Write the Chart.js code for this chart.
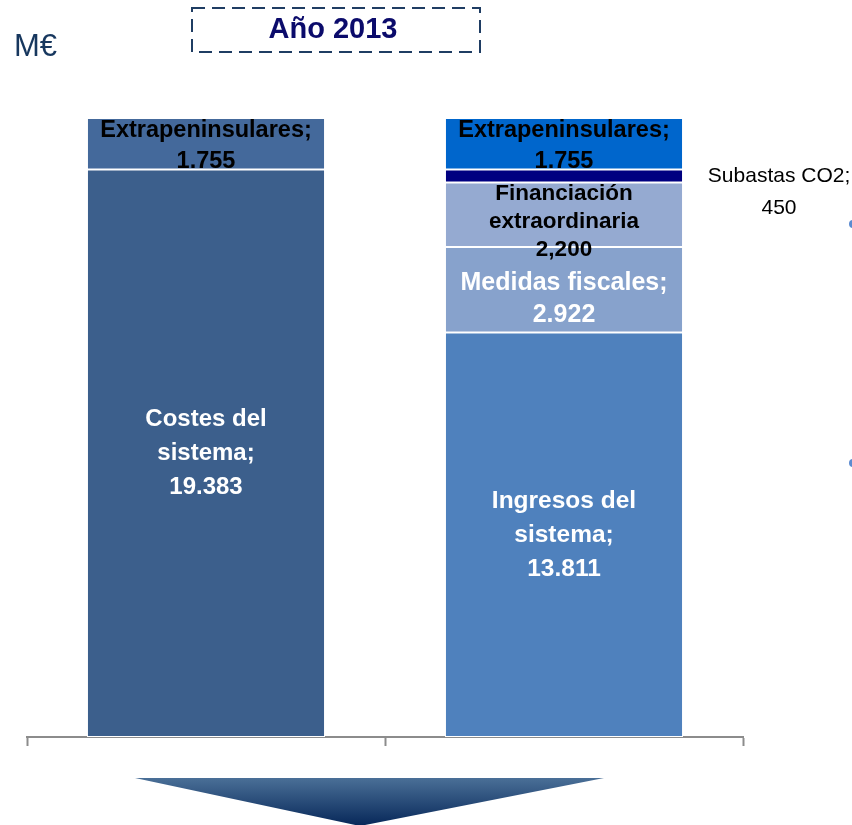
<!DOCTYPE html>
<html>
<head>
<meta charset="utf-8">
<script src="https://cdn.jsdelivr.net/npm/chart.js@4"></script>
<style>
  body { margin: 0; background: #fff; }
  canvas { display: block; }
</style>
</head>
<body>
<canvas class="chartBalance" width="852" height="825"></canvas>
<script>
// две колонки: затраты и доходы системы, M€
const categorias = ['Costes', 'Ingresos'];

const costesSistema = [19383, null];
const ingresosSistema = [null, 13811];
const medidasFiscales = [null, 2922];
const financiacionExtra = [null, 2200];
const subastasCO2 = [null, 450];
const extrapeninsulares = [1755, 1755];

// подписи внутри сегментов (по строкам)
const textosCostes = [['Costes del', 'sistema;', '19.383'], null];
const textosIngresos = [null, ['Ingresos del', 'sistema;', '13.811']];
const textosMedidas = [null, ['Medidas fiscales;', '2.922']];
const textosFinanciacion = [null, ['Financiación', 'extraordinaria', '2,200']];
const textosSubastas = [null, ['Subastas CO2;', '450']];
const textosExtra = [['Extrapeninsulares;', '1.755'], ['Extrapeninsulares;', '1.755']];

const totalMax = costesSistema[0] + extrapeninsulares[0];

const FONT = '"Liberation Sans", Arial, sans-serif';

// плагин: подписи сегментов
const etiquetas = {
  id: 'etiquetas',
  afterDatasetsDraw(chart) {
    const ctx = chart.ctx;
    chart.data.datasets.forEach((ds, i) => {
      const meta = chart.getDatasetMeta(i);
      meta.data.forEach((bar, j) => {
        const lines = ds.textos[j];
        if (!lines || ds.data[j] == null) return;
        const e = ds.etiqueta;
        const cy = (bar.y + bar.base) / 2;
        ctx.save();
        ctx.font = e.weight + ' ' + e.size + 'px ' + FONT;
        ctx.fillStyle = e.color;
        ctx.textAlign = 'center';
        ctx.textBaseline = 'middle';
        let x = bar.x;
        let y0 = cy - (lines.length - 1) * e.lineH / 2 + (e.dy || 0);
        if (e.top != null) y0 = bar.y + e.top; // от верхнего края сегмента
        if (e.outside) { // выноска справа от колонки
          x = bar.x + bar.width / 2 + e.outside;
          y0 = cy;
        }
        lines.forEach((t, k) => ctx.fillText(t, x, y0 + k * e.lineH));
        ctx.restore();
      });
    });
  }
};

// плагин: заголовок, единицы и стрелка внизу
const decoracion = {
  id: 'decoracion',
  afterDraw(chart) {
    const ctx = chart.ctx;
    ctx.save();
    ctx.fillStyle = '#17375e';
    ctx.font = '31px ' + FONT;
    ctx.textBaseline = 'middle';
    ctx.fillText('M€', 14, 47);

    ctx.strokeStyle = '#1f3d63';
    ctx.lineWidth = 2;
    ctx.setLineDash([13, 7]);
    ctx.strokeRect(192, 8, 288, 44);
    ctx.setLineDash([]);

    ctx.fillStyle = '#0b0b6b';
    ctx.font = 'bold 29px ' + FONT;
    ctx.textAlign = 'center';
    ctx.fillText('Año 2013', 333, 30);

    const g = ctx.createLinearGradient(0, 778, 0, 825);
    g.addColorStop(0, '#4a6f97');
    g.addColorStop(1, '#08295a');
    ctx.fillStyle = g;
    ctx.beginPath();
    ctx.moveTo(135, 778);
    ctx.lineTo(604, 778);
    ctx.lineTo(360, 826);
    ctx.closePath();
    ctx.fill();

    ctx.fillStyle = '#5b8bd0';
    [224, 463].forEach(y => {
      ctx.beginPath();
      ctx.arc(853, y, 4, 0, Math.PI * 2);
      ctx.fill();
    });
    ctx.restore();
  }
};

function serie(label, data, textos, color, etiqueta) {
  return {
    label: label,
    data: data,
    textos: textos,
    etiqueta: etiqueta,
    backgroundColor: color,
    borderColor: '#ffffff',
    borderWidth: 1,
    borderSkipped: false,
    barPercentage: 0.665,
    categoryPercentage: 1
  };
}

document.addEventListener('DOMContentLoaded', () => {
  new Chart(document.querySelector('.chartBalance'), {
    type: 'bar',
    data: {
      labels: categorias,
      datasets: [
        serie('Costes del sistema', costesSistema, textosCostes, '#3c5f8c',
          { weight: 'bold', size: 24, lineH: 34, color: '#ffffff' }),
        serie('Ingresos del sistema', ingresosSistema, textosIngresos, '#4f81bd',
          { weight: 'bold', size: 24.5, lineH: 34, color: '#ffffff' }),
        serie('Medidas fiscales', medidasFiscales, textosMedidas, '#87a2cc',
          { weight: 'bold', size: 25, lineH: 32, color: '#ffffff', dy: 9 }),
        serie('Financiación extraordinaria', financiacionExtra, textosFinanciacion, '#95aad1',
          { weight: 'bold', size: 22.5, lineH: 28, color: '#000000', top: 11 }),
        serie('Subastas CO2', subastasCO2, textosSubastas, '#000080',
          { weight: 'normal', size: 21, lineH: 32, color: '#000000', outside: 96 }),
        serie('Extrapeninsulares', extrapeninsulares, textosExtra, ['#44699b', '#0066cc'],
          { weight: 'bold', size: 23.5, lineH: 31, color: '#000000', dy: 2 })
      ]
    },
    options: {
      responsive: false,
      animation: false,
      layout: { padding: { top: 118, left: 27, right: 109, bottom: 76 } },
      plugins: { legend: { display: false }, tooltip: { enabled: false } },
      scales: {
        x: {
          stacked: true,
          grid: {
            offset: true,
            drawOnChartArea: false,
            drawTicks: true,
            tickLength: 9,
            tickColor: '#8c8c8c',
            tickWidth: 2
          },
          border: { display: true, color: '#8c8c8c', width: 2 },
          ticks: { display: false },
          afterFit: (s) => { s.height = 12; }
        },
        y: { stacked: true, display: false, min: 0, max: totalMax }
      }
    },
    plugins: [etiquetas, decoracion]
  });
});
</script>
</body>
</html>
